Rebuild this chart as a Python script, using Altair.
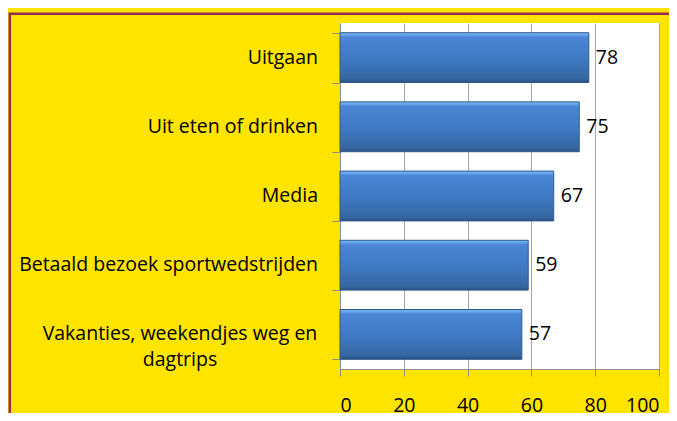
import altair as alt
import pandas as pd

categories = [
    "Uitgaan",
    "Uit eten of drinken",
    "Media",
    "Betaald bezoek sportwedstrijden",
    "Vakanties, weekendjes weg en dagtrips",
]
labels = [
    "Uitgaan",
    "Uit eten of drinken",
    "Media",
    "Betaald bezoek sportwedstrijden",
    "Vakanties, weekendjes weg en\ndagtrips",
]
values = [78, 75, 67, 59, 57]
x_ticks = [0, 20, 40, 60, 80, 100]

df = pd.DataFrame({"cat": categories, "label": labels, "value": values})

FONT = "Open Sans"
FS = 19.5
GRID = "#A6A6A6"

gradient = alt.Gradient(
    gradient="linear",
    x1=0, x2=0, y1=0, y2=1,
    stops=[
        alt.GradientStop(color="#74B4F4", offset=0),
        alt.GradientStop(color="#6AA8EC", offset=0.04),
        alt.GradientStop(color="#4A86D4", offset=0.09),
        alt.GradientStop(color="#3F79C3", offset=0.55),
        alt.GradientStop(color="#35669F", offset=0.93),
        alt.GradientStop(color="#2B4F80", offset=1),
    ],
)

base = alt.Chart(df).encode(
    y=alt.Y(
        "cat:N",
        sort=categories,
        scale=alt.Scale(paddingInner=0.28, paddingOuter=0.14),
        axis=alt.Axis(
            labels=False, title=None, tickBand="extent", tickSize=8,
            tickColor="#8C8C8C", domainColor="#8C8C8C", grid=False,
        ),
    )
)

bars = base.mark_bar(fill=gradient, stroke="#2E5A8E", strokeWidth=1).encode(
    x=alt.X(
        "value:Q",
        scale=alt.Scale(domain=[0, 100]),
        axis=alt.Axis(
            values=x_ticks, title=None, grid=True, gridColor=GRID,
            tickSize=7, tickColor="#8C8C8C", domainColor="#8C8C8C",
            labelPadding=20, labelFontSize=FS, labelFont=FONT,
            labelColor="black",
        ),
    )
)

value_text = base.mark_text(
    align="left", baseline="middle", dx=7, fontSize=FS, font=FONT, color="black"
).encode(x="value:Q", text="value:Q")

single_labels = base.transform_filter(
    "indexof(datum.label, '\\n') < 0"
).mark_text(
    align="right", baseline="middle", dx=-22, fontSize=FS, font=FONT, color="black"
).encode(x=alt.value(0), text="label:N")

multi_labels = base.transform_filter(
    "indexof(datum.label, '\\n') >= 0"
).mark_text(
    align="center", baseline="middle", dx=-160, fontSize=FS, font=FONT,
    color="black", lineBreak="\n", lineHeight=26,
).encode(x=alt.value(0), text="label:N")

border = alt.Chart(alt.Data(values=[{}])).mark_rect(
    fill="transparent", stroke="#982A4C", strokeWidth=2.5
).encode(
    x=alt.value(-330.2), x2=alt.value(400), y=alt.value(-9.3), y2=alt.value(500)
)

chart = alt.layer(border, bars, value_text, single_labels, multi_labels).properties(
    width=319,
    height=346,
    padding={"left": 332, "top": 15, "right": 10, "bottom": 44},
    autosize=alt.AutoSizeParams(type="none"),
    background="#FFE400",
).configure_view(stroke=None, fill="white")

chart.save("out.html", embed_options={"renderer": "svg", "actions": False})
